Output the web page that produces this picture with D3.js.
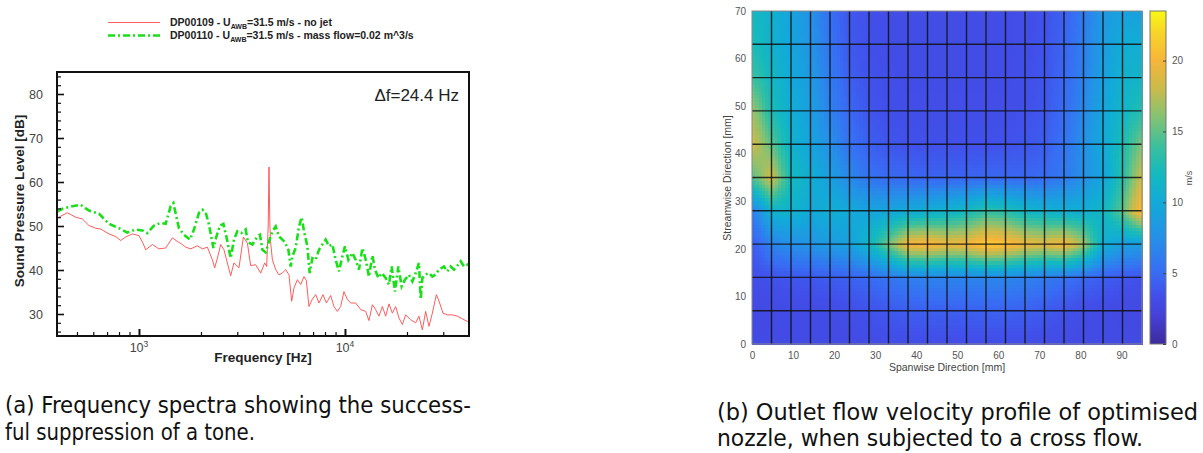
<!DOCTYPE html>
<html>
<head>
<meta charset="utf-8">
<script src="https://d3js.org/d3.v7.min.js"></script>
<style>
  body { margin: 0; background: #fff; }
  svg { display: block; }
  .tick text { font-family: "Liberation Sans", Arial, sans-serif; }
</style>
</head>
<body>
<div id="chart"></div>
<script>
// ---- left panel: spectra (frequency in Hz, level in dB) ----
var noJetFreq = [400, 449, 493, 531, 572, 616, 652, 715, 771, 815, 862, 929, 1000, 1046, 1078, 1162, 1250, 1348,
  1453, 1536, 1624, 1686, 1782, 1921, 2032, 2148, 2272, 2331, 2403, 2493, 2586, 2686, 2787, 2892, 3058, 3213,
  3359, 3485, 3686, 3898, 4076, 4168, 4239, 4277, 4320, 4359, 4443, 4609, 4782, 4967, 5154, 5348, 5512, 5655,
  5874, 6095, 6324, 6494, 6686, 6946, 7208, 7479, 7822, 8124, 8523, 8843, 9187, 9531, 9888, 10273, 10659, 11271,
  11918, 12602, 13076, 13583, 14093, 14622, 15190, 15760, 16352, 16985, 17623, 18285, 18994, 19705, 20838,
  22036, 22864, 23750, 24641, 25570, 26559, 27773, 28818, 29900, 31418, 33222, 35127, 37145, 39282, 40000];
var noJetSpl = [51.8, 53.0, 52.0, 51.6, 50.1, 49.5, 49.3, 48.2, 47.6, 46.7, 47.5, 48.2, 47.8, 46.1, 44.6, 45.8, 44.8, 45.0,
  47.3, 46.5, 45.8, 45.2, 44.8, 45.5, 44.8, 45.2, 42.3, 40.5, 42.7, 45.8, 44.6, 41.6, 38.7, 41.6, 40.5, 47.5,
  46.1, 41.0, 41.2, 39.3, 41.6, 40.8, 50.0, 63.4, 50.0, 46.1, 42.3, 40.1, 38.9, 39.3, 40.1, 38.9, 32.9, 35.9,
  37.8, 36.7, 38.5, 37.6, 31.7, 33.4, 34.4, 32.5, 34.4, 32.5, 34.2, 31.7, 30.6, 31.7, 35.1, 33.3, 32.5, 32.5,
  31.0, 30.6, 28.5, 32.1, 31.0, 29.5, 31.7, 29.5, 32.3, 30.2, 31.7, 29.1, 27.6, 29.8, 28.7,
  28.0, 29.5, 26.4, 30.6, 27.2, 30.2, 34.4, 32.5, 30.2, 29.8, 29.8, 29.5, 28.9, 28.3, 28.0];

var jetFreq = [400, 425, 475, 521, 572, 639, 715, 800, 878, 964, 1039, 1098, 1183, 1274, 1348, 1425, 1469, 1524,
  1564, 1654, 1768, 1849, 1956, 2032, 2108, 2187, 2297, 2384, 2473, 2569, 2665, 2787, 2892, 3004, 3141, 3296,
  3381, 3552, 3756, 3867, 3972, 4121, 4277, 4443, 4609, 4782, 4967, 5116, 5313, 5450, 5555, 5764, 5980, 6164,
  6324, 6568, 6739, 6946, 7208, 7479, 7769, 8059, 8362, 8686, 9014, 9352, 9714, 10000, 10387, 10862, 11271,
  11695, 12148, 12602, 13076, 13583, 13983, 14525, 15073, 15760, 16352, 16853, 17486, 18162, 18844, 19553,
  20446, 21237, 22036, 22864, 23306, 23750, 24641, 25570, 26559, 27557, 28591, 30233, 31418, 32600, 33821,
  35127, 36450, 37822, 39282, 40000];
var jetSpl = [53.3, 53.9, 54.5, 54.8, 53.5, 52.8, 50.5, 49.5, 48.5, 49.2, 49.0, 48.4, 50.1, 50.7, 50.5, 54.5, 55.2, 51.8,
  49.5, 48.0, 46.9, 49.2, 53.0, 53.7, 53.1, 50.3, 45.0, 47.8, 50.1, 50.5, 47.3, 42.7, 46.9, 48.8, 48.4, 49.2,
  46.3, 45.8, 47.6, 48.0, 44.6, 44.0, 46.5, 48.8, 49.9, 47.6, 46.9, 46.3, 44.6, 40.8, 43.1, 45.0, 49.9, 52.0,
  48.8, 45.4, 39.3, 42.7, 42.3, 44.6, 45.8, 46.9, 45.4, 45.8, 42.3, 39.7, 43.1, 45.4, 42.3, 43.9, 42.3,
  40.1, 45.0, 42.4, 38.5, 43.3, 40.1, 38.2, 39.3, 38.2, 36.7, 40.8, 35.1, 40.8, 36.3, 37.8,
  38.9, 37.4, 39.3, 41.6, 33.3, 38.2, 39.0, 39.3, 38.5, 39.0, 40.1, 40.8, 39.7, 40.8, 40.1,
  41.0, 42.0, 40.8, 41.2, 40.5];

var splMajor = [30, 40, 50, 60, 70, 80];
var splMinor = [26, 28, 32, 34, 36, 38, 42, 44, 46, 48, 52, 54, 56, 58, 62, 64, 66, 68, 72, 74, 76, 78, 82, 84];
var freqMajor = [1000, 10000];
var freqMajorLabels = ["3", "4"];
var freqMinor = [500, 600, 700, 800, 900, 2000, 3000, 4000, 5000, 6000, 7000, 8000, 9000, 20000, 30000];

// ---- right panel: outlet velocity (m/s) on measurement nodes ----
var spanNodes = [0, 4.75, 9.5, 14.25, 19, 23.75, 28.5, 33.25, 38, 42.75, 47.5, 52.25, 57, 61.75, 66.5, 71.25, 76, 80.75, 85.5, 90.25, 95];
var streamNodes = [0, 7, 14, 21, 28, 35, 42, 49, 56, 63, 70];
var velocity = [
  [3.0, 3.0, 3.0, 3.0, 3.0, 3.0, 3.1, 3.2, 3.2, 3.2, 3.2, 3.2, 3.2, 3.2, 3.2, 3.1, 3.0, 3.0, 3.0, 3.0, 3.0],
  [2.8, 2.9, 3.0, 3.0, 3.1, 3.3, 3.6, 3.9, 4.2, 4.3, 4.3, 4.3, 4.4, 4.4, 4.3, 4.0, 3.6, 3.2, 3.0, 2.9, 2.8],
  [3.3, 3.6, 3.8, 3.9, 4.1, 4.4, 4.9, 5.6, 6.3, 6.6, 6.6, 6.7, 6.8, 6.8, 6.5, 6.0, 5.4, 4.8, 4.2, 3.8, 3.5],
  [4.0, 6.5, 7.5, 8.0, 8.5, 9.0, 11.5, 15.5, 20.0, 20.5, 19.5, 19.8, 21.5, 21.0, 19.5, 19.0, 20.0, 17.0, 10.5, 9.0, 8.5],
  [6.0, 11.0, 11.0, 10.0, 10.5, 10.0, 9.5, 9.5, 10.0, 10.5, 11.0, 12.0, 13.5, 13.0, 11.5, 11.0, 10.5, 10.5, 11.5, 15.0, 21.0],
  [14.5, 18.5, 12.0, 10.5, 9.0, 7.0, 5.5, 5.0, 4.8, 4.6, 4.6, 4.6, 4.8, 4.8, 4.8, 5.0, 6.0, 7.5, 9.5, 13.0, 18.5],
  [18.5, 15.0, 11.0, 9.5, 7.5, 5.5, 4.3, 3.8, 3.6, 3.5, 3.5, 3.5, 3.5, 3.6, 3.8, 4.2, 5.5, 7.5, 10.0, 12.5, 16.0],
  [17.0, 12.5, 10.5, 9.0, 6.5, 4.8, 3.8, 3.4, 3.3, 3.3, 3.3, 3.3, 3.3, 3.3, 3.5, 3.9, 5.0, 7.0, 9.5, 11.5, 13.0],
  [14.0, 11.8, 10.0, 8.5, 6.0, 4.3, 3.6, 3.3, 3.2, 3.2, 3.2, 3.2, 3.2, 3.2, 3.4, 3.8, 4.8, 6.5, 9.0, 10.8, 11.5],
  [12.5, 11.0, 9.6, 8.0, 5.5, 4.0, 3.5, 3.2, 3.2, 3.2, 3.2, 3.2, 3.2, 3.2, 3.3, 3.7, 4.6, 6.3, 8.6, 10.2, 10.5],
  [12.0, 10.8, 9.3, 7.8, 5.2, 3.9, 3.4, 3.2, 3.2, 3.2, 3.2, 3.2, 3.2, 3.2, 3.3, 3.6, 4.4, 6.0, 8.2, 9.2, 9.0]
];
var spanTicks = [0, 10, 20, 30, 40, 50, 60, 70, 80, 90];
var streamTicks = [0, 10, 20, 30, 40, 50, 60, 70];
var velTicks = [0, 5, 10, 15, 20];
// parula-like lookup (value -> colour)
var mapStops = [0, 2, 3.5, 5, 7.5, 10, 12, 14, 16, 18, 20, 22, 23.5];
var mapColors = ["#3d2a9c", "#4541d8", "#4150ea", "#386cf4", "#2590e8", "#12aad8", "#14b9bf", "#3cc09c",
  "#84c274", "#c9bb4a", "#f6b53a", "#f8d52a", "#f9f812"];

var width = 1203, height = 453;
var svg = d3.select("#chart").append("svg").attr("width", width).attr("height", height);
var sans = "'Liberation Sans', Arial, Helvetica, sans-serif";

// ================= left panel =================
var xL = d3.scaleLog().domain([400, 40000]).range([57, 469]);
var yL = d3.scaleLinear().domain([25, 85]).range([336, 72]);

svg.append("clipPath").attr("id", "clipL").append("rect")
  .attr("x", 57).attr("y", 72).attr("width", 412).attr("height", 264);

var lineL = d3.line().x(d => xL(d[0])).y(d => yL(d[1]));
var gL = svg.append("g").attr("clip-path", "url(#clipL)");
gL.append("path").datum(d3.zip(noJetFreq, noJetSpl))
  .attr("d", lineL).attr("fill", "none").attr("stroke", "#ff4a4a").attr("stroke-width", 0.9);
gL.append("path").datum(d3.zip(jetFreq, jetSpl))
  .attr("d", lineL).attr("fill", "none").attr("stroke", "#18e018").attr("stroke-width", 2.6)
  .attr("stroke-dasharray", "7,3,2,3");

// axes (ticks inward)
var yAx = svg.append("g").attr("transform", "translate(57,0)")
  .call(d3.axisLeft(yL).tickValues(splMajor).tickSize(-7).tickPadding(14));
var yAxMin = svg.append("g").attr("transform", "translate(57,0)")
  .call(d3.axisLeft(yL).tickValues(splMinor).tickSize(-4).tickFormat(""));
var xAx = svg.append("g").attr("transform", "translate(0,336)")
  .call(d3.axisBottom(xL).tickValues(freqMajor).tickSize(-7).tickFormat(""));
var xAxMin = svg.append("g").attr("transform", "translate(0,336)")
  .call(d3.axisBottom(xL).tickValues(freqMinor).tickSize(-4).tickFormat(""));
[yAx, yAxMin, xAx, xAxMin].forEach(g => {
  g.select(".domain").remove();
  g.selectAll(".tick line").attr("stroke", "#111").attr("stroke-width", 1.2);
});
yAx.selectAll(".tick line").attr("stroke-width", 1.6);
xAx.selectAll(".tick line").attr("stroke-width", 2);
yAx.selectAll(".tick text").attr("font-size", 12.5).attr("fill", "#444").attr("font-family", sans);

freqMajor.forEach((f, i) => {
  var t = svg.append("text").attr("x", xL(f)).attr("y", 352).attr("text-anchor", "middle")
    .attr("font-family", sans).attr("font-size", 12.5).attr("fill", "#444");
  t.append("tspan").text("10");
  t.append("tspan").attr("dy", -5).attr("font-size", 8.5).text(freqMajorLabels[i]);
});

svg.append("rect").attr("x", 57).attr("y", 72).attr("width", 412).attr("height", 264)
  .attr("fill", "none").attr("stroke", "#111").attr("stroke-width", 2);

svg.append("text").attr("x", 263).attr("y", 362).attr("text-anchor", "middle")
  .attr("font-family", sans).attr("font-weight", "bold").attr("font-size", 13.5).attr("fill", "#222")
  .text("Frequency [Hz]");
svg.append("text").attr("transform", "translate(24,201) rotate(-90)").attr("text-anchor", "middle")
  .attr("font-family", sans).attr("font-weight", "bold").attr("font-size", 13.5).attr("fill", "#222")
  .text("Sound Pressure Level [dB]");
svg.append("text").attr("x", 459).attr("y", 101).attr("text-anchor", "end")
  .attr("font-family", sans).attr("font-size", 17).attr("fill", "#222").text("\u0394f=24.4 Hz");

// legend
var legendItems = [
  { id: "DP00109 - U", rest: "=31.5 m/s - no jet", color: "#ff4a4a", w: 0.9, dash: null, y: 22.5 },
  { id: "DP00110 - U", rest: "=31.5 m/s - mass flow=0.02 m^3/s", color: "#18e018", w: 2.6, dash: "7,3,2,3", y: 35.5 }
];
legendItems.forEach(d => {
  svg.append("line").attr("x1", 108).attr("x2", 160).attr("y1", d.y).attr("y2", d.y)
    .attr("stroke", d.color).attr("stroke-width", d.w).attr("stroke-dasharray", d.dash);
  var t = svg.append("text").attr("x", 170).attr("y", d.y + 3.5)
    .attr("font-family", sans).attr("font-weight", "bold").attr("font-size", 10.5).attr("fill", "#222");
  t.append("tspan").text(d.id);
  t.append("tspan").attr("dy", 2.5).attr("font-size", 7).text("AWB");
  t.append("tspan").attr("dy", -2.5).text(d.rest);
});

// ================= right panel =================
var xH = d3.scaleLinear().domain([0, 95]).range([752, 1142]);
var yH = d3.scaleLinear().domain([0, 70]).range([344, 11]);
var color = d3.scaleLinear().domain(mapStops).range(mapColors).interpolate(d3.interpolateRgb).clamp(true);

// shaded field: each measurement cell split into sub-cells, shaded bilinearly from its four nodes
var subX = 6, subY = 10;
var cells = [];
for (var j = 0; j < streamNodes.length - 1; j++) {
  for (var i = 0; i < spanNodes.length - 1; i++) {
    var v00 = velocity[j][i], v10 = velocity[j][i + 1], v01 = velocity[j + 1][i], v11 = velocity[j + 1][i + 1];
    var sx0 = spanNodes[i], sx1 = spanNodes[i + 1], sy0 = streamNodes[j], sy1 = streamNodes[j + 1];
    for (var b = 0; b < subY; b++) {
      for (var a = 0; a < subX; a++) {
        var u = (a + 0.5) / subX, v = (b + 0.5) / subY;
        var val = v00 * (1 - u) * (1 - v) + v10 * u * (1 - v) + v01 * (1 - u) * v + v11 * u * v;
        cells.push({
          x0: sx0 + (sx1 - sx0) * a / subX, x1: sx0 + (sx1 - sx0) * (a + 1) / subX,
          y0: sy0 + (sy1 - sy0) * b / subY, y1: sy0 + (sy1 - sy0) * (b + 1) / subY, val: val
        });
      }
    }
  }
}
svg.append("g").attr("shape-rendering", "crispEdges").selectAll("rect").data(cells).join("rect")
  .attr("x", d => xH(d.x0)).attr("y", d => yH(d.y1))
  .attr("width", d => xH(d.x1) - xH(d.x0) + 0.6).attr("height", d => yH(d.y0) - yH(d.y1) + 0.6)
  .attr("fill", d => color(d.val));

// measurement grid
var grid = svg.append("g").attr("stroke", "#111").attr("stroke-opacity", 0.85).attr("stroke-width", 1.4);
grid.selectAll(".v").data(spanNodes.slice(1, -1)).join("line")
  .attr("x1", d => xH(d)).attr("x2", d => xH(d)).attr("y1", yH(0)).attr("y2", yH(70));
grid.selectAll(".h").data(streamNodes.slice(1, -1)).join("line")
  .attr("x1", xH(0)).attr("x2", xH(95)).attr("y1", d => yH(d)).attr("y2", d => yH(d));

svg.append("rect").attr("x", xH(0)).attr("y", yH(70)).attr("width", xH(95) - xH(0)).attr("height", yH(0) - yH(70))
  .attr("fill", "none").attr("stroke", "#888").attr("stroke-width", 1);

var xHax = svg.append("g").attr("transform", "translate(0," + yH(0) + ")")
  .call(d3.axisBottom(xH).tickValues(spanTicks).tickSize(0).tickPadding(8));
var yHax = svg.append("g").attr("transform", "translate(" + xH(0) + ",0)")
  .call(d3.axisLeft(yH).tickValues(streamTicks).tickSize(0).tickPadding(6));
[xHax, yHax].forEach(g => {
  g.select(".domain").remove();
  g.selectAll(".tick text").attr("font-size", 10).attr("fill", "#555").attr("font-family", sans);
});

svg.append("text").attr("x", 947).attr("y", 371).attr("text-anchor", "middle")
  .attr("font-family", sans).attr("font-size", 10.5).attr("fill", "#444").text("Spanwise Direction [mm]");
svg.append("text").attr("transform", "translate(731,178) rotate(-90)").attr("text-anchor", "middle")
  .attr("font-family", sans).attr("font-size", 10.5).attr("fill", "#444").text("Streamwise Direction [mm]");

// colour bar
var cbY = d3.scaleLinear().domain([0, 23.5]).range([344, 11]);
var grad = svg.append("defs").append("linearGradient").attr("id", "cbGrad")
  .attr("x1", 0).attr("y1", 1).attr("x2", 0).attr("y2", 0);
grad.selectAll("stop").data(mapStops).join("stop")
  .attr("offset", d => d / 23.5).attr("stop-color", (d, i) => mapColors[i]);
svg.append("rect").attr("x", 1150).attr("y", cbY(23.5)).attr("width", 16).attr("height", cbY(0) - cbY(23.5))
  .attr("fill", "url(#cbGrad)").attr("stroke", "#777").attr("stroke-width", 1);
var cbAx = svg.append("g").attr("transform", "translate(1166,0)")
  .call(d3.axisRight(cbY).tickValues(velTicks).tickSize(-3).tickPadding(6));
cbAx.select(".domain").remove();
cbAx.selectAll(".tick line").attr("stroke", "#444");
cbAx.selectAll(".tick text").attr("font-size", 10).attr("fill", "#555").attr("font-family", sans);
svg.append("text").attr("transform", "translate(1192,178) rotate(-90)").attr("text-anchor", "middle")
  .attr("font-family", sans).attr("font-size", 9).attr("fill", "#555").text("m/s");

// ================= captions =================
var capFont = "'DejaVu Sans Condensed', 'Liberation Sans Narrow', 'DejaVu Sans', sans-serif";
var captions = [
  { x: 5, y: 413, w: 466, text: "(a) Frequency spectra showing the success-" },
  { x: 5, y: 440, w: 250, text: "ful suppression of a tone." },
  { x: 717, y: 420, w: 481, text: "(b) Outlet flow velocity profile of optimised" },
  { x: 717, y: 446, w: 426, text: "nozzle, when subjected to a cross flow." }
];
captions.forEach(c => {
  svg.append("text").attr("x", c.x).attr("y", c.y).attr("font-family", capFont).attr("font-size", 23)
    .attr("fill", "#111").attr("textLength", c.w).attr("lengthAdjust", "spacingAndGlyphs").text(c.text);
});
</script>
</body>
</html>
